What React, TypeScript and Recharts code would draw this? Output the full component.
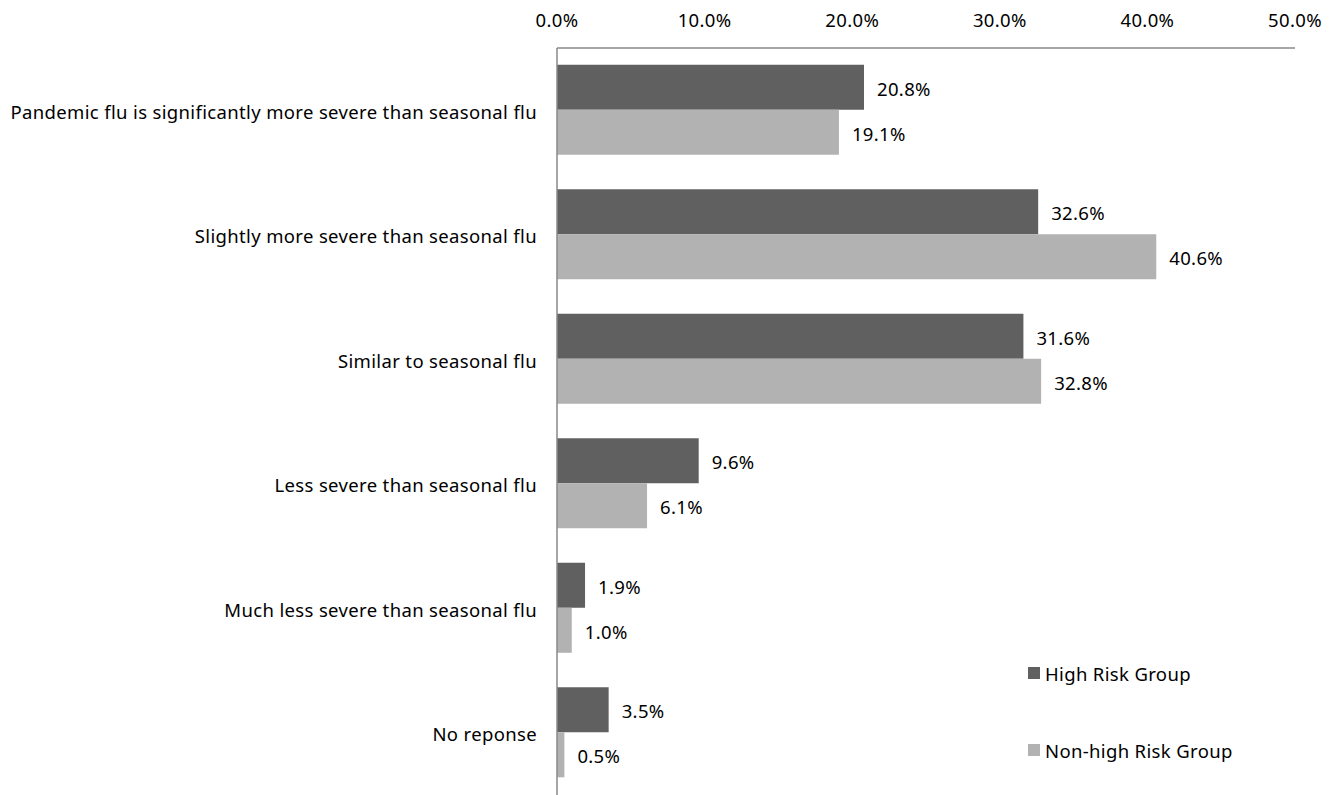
import React from 'react';
import { BarChart, Bar, XAxis, YAxis, LabelList } from 'recharts';

const categories = [
  'Pandemic flu is significantly more severe than seasonal flu',
  'Slightly more severe than seasonal flu',
  'Similar to seasonal flu',
  'Less severe than seasonal flu',
  'Much less severe than seasonal flu',
  'No reponse',
];
const highRisk = [20.8, 32.6, 31.6, 9.6, 1.9, 3.5];
const nonHighRisk = [19.1, 40.6, 32.8, 6.1, 1.0, 0.5];
const xTicks = [0, 10, 20, 30, 40, 50];
const seriesNames = ['High Risk Group', 'Non-high Risk Group'];
const colors = ['#606060', '#b2b2b2'];

const data = categories.map((c, i) => ({ name: c, high: highRisk[i], non: nonHighRisk[i] }));

const FONT = '"Noto Sans", sans-serif';
const textStyle = { fill: '#000', fontSize: 18.5, fontFamily: FONT, letterSpacing: '0.35px' };

const fmt = (v: number) => `${Number(v).toFixed(1)}%`;

export default function App() {
  return (
    <div style={{ position: 'absolute', left: 0, top: 0, width: 1338, height: 795, background: '#fff' }}>
      <BarChart
        width={1338}
        height={795}
        data={data}
        layout="vertical"
        margin={{ top: 0, right: 43, bottom: 0, left: 0 }}
        barCategoryGap="13.5%"
        barGap={0}
      >
        <XAxis
          type="number"
          orientation="top"
          domain={[0, 50]}
          ticks={xTicks}
          tickFormatter={fmt}
          height={48}
          axisLine={{ stroke: '#888888', strokeWidth: 1.5 }}
          tickLine={false}
          tickSize={19}
          tick={textStyle}
          interval={0}
        />
        <YAxis
          type="category"
          dataKey="name"
          width={557}
          axisLine={{ stroke: '#888888', strokeWidth: 1.5 }}
          tickLine={false}
          tickSize={18}
          tick={{ ...textStyle, dy: 2 }}
          interval={0}
        />
        <Bar dataKey="high" name={seriesNames[0]} fill={colors[0]} isAnimationActive={false}>
          <LabelList dataKey="high" position="right" offset={13} dy={2} formatter={fmt} style={textStyle} />
        </Bar>
        <Bar dataKey="non" name={seriesNames[1]} fill={colors[1]} isAnimationActive={false}>
          <LabelList dataKey="non" position="right" offset={13} dy={2} formatter={fmt} style={textStyle} />
        </Bar>
      </BarChart>
      <div style={{ position: 'absolute', left: 1028, top: 659, fontFamily: FONT, fontSize: 18.5, letterSpacing: '0.35px', color: '#000' }}>
        {seriesNames.map((n, i) => (
          <div key={n} style={{ display: 'flex', alignItems: 'center', height: 28, marginBottom: i === 0 ? 49 : 0 }}>
            <span style={{ display: 'inline-block', width: 12, height: 12, background: colors[i], marginRight: 5 }} />
            <span>{n}</span>
          </div>
        ))}
      </div>
    </div>
  );
}
